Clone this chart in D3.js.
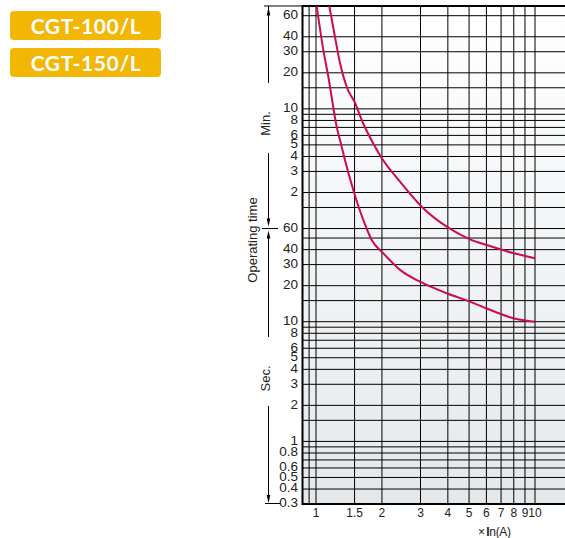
<!DOCTYPE html>
<html>
<head>
<meta charset="utf-8">
<style>
  body { margin: 0; background: #fff; }
  .chart { width: 565px; height: 538px; }
  .tick { font-family: "Liberation Sans", Arial, sans-serif; fill: #222; }
</style>
</head>
<body>
<div class="chart"></div>
<script src="https://d3js.org/d3.v7.min.js"></script>
<script>
  // model badges
  const models = ['CGT-100/L', 'CGT-150/L'];

  // x: multiples of In (log)
  const xGridValues = [0.93, 1, 1.5, 2, 3, 4, 5, 6, 7, 8, 9, 10, 15];
  const xTickValues = [1, 1.5, 2, 3, 4, 5, 6, 7, 8, 9, 10, 15];
  const xTickLabels = ['1', '1.5', '2', '3', '4', '5', '6', '7', '8', '9', '10', '15'];

  // y: operating time in seconds (log)
  const yGridSeconds = [3600, 2400, 1800, 1200, 900, 600, 540, 480, 420, 360, 300, 240, 180, 120, 90,
                        60, 50, 40, 30, 20, 15, 10, 9, 8, 7, 6, 5, 4, 3, 2, 1.5, 1, 0.9, 0.8, 0.7, 0.6, 0.5, 0.4];
  const minTickSeconds = [3600, 2400, 1800, 1200, 600, 480, 360, 300, 240, 180, 120];
  const minTickLabels = ['60', '40', '30', '20', '10', '8', '6', '5', '4', '3', '2'];
  const secTickSeconds = [60, 40, 30, 20, 10, 8, 6, 5, 4, 3, 2, 1, 0.8, 0.6, 0.5, 0.4, 0.3];
  const secTickLabels = ['60', '40', '30', '20', '10', '8', '6', '5', '4', '3', '2', '1', '0.8', '0.6', '0.5', '0.4', '0.3'];
  const timeTop = 4340;

  // upper curve
  const upperX = [1.15, 1.221, 1.287, 1.381, 1.507, 1.639, 1.821, 1.995, 2.419, 3.038, 3.953, 5.05, 6.02, 7.94, 10];
  const upperT = [4340, 2389, 1449, 914, 672, 457, 311, 233, 148, 91.4, 62.2, 48.8, 43.7, 37.5, 33.9];
  // lower curve
  const lowerX = [1.007, 1.08, 1.138, 1.243, 1.31, 1.356, 1.48, 1.644, 1.796, 2.029, 2.419, 2.985, 3.953, 5.05, 6.02, 7.96, 10];
  const lowerT = [4340, 1863, 1114, 426, 290, 224, 126, 70.8, 48.2, 37.3, 27.1, 21.6, 17.3, 14.7, 12.9, 10.7, 10.0];

  const W = 565, H = 538;
  const plotLeft = 302.5, plotRight = 620;

  const svg = d3.select('.chart').append('svg')
    .attr('width', W).attr('height', H);

  const xScale = d3.scaleLog().domain([1, 10]).range([316, 535]);
  const yScale = d3.scaleLog().domain([0.3, 3600]).range([504, 15.7]);
  const plotTop = yScale(timeTop), plotBottom = yScale(0.3);

  // badges
  const badge = svg.selectAll('g.badge').data(models).join('g')
    .attr('class', 'badge')
    .attr('transform', (d, i) => `translate(10,${i === 0 ? 11 : 48})`);
  badge.append('rect')
    .attr('width', 151).attr('height', 29).attr('rx', 4)
    .attr('fill', '#f2b705');
  badge.append('text')
    .attr('x', 76).attr('y', 15)
    .attr('dy', '0.36em')
    .attr('text-anchor', 'middle')
    .style('font-family', 'Lato, "DejaVu Sans", sans-serif')
    .style('font-weight', 'bold')
    .style('font-size', '21px')
    .style('letter-spacing', '0.6px')
    .style('fill', '#fff')
    .text(d => d);

  // background gradient
  const defs = svg.append('defs');
  const grad = defs.append('linearGradient').attr('id', 'bg')
    .attr('x1', 0).attr('y1', 0).attr('x2', 0).attr('y2', 1);
  grad.append('stop').attr('offset', '0%').attr('stop-color', '#ffffff');
  grad.append('stop').attr('offset', '100%').attr('stop-color', '#e5e8eb');
  defs.append('clipPath').attr('id', 'clip')
    .append('rect')
    .attr('x', plotLeft).attr('y', plotTop)
    .attr('width', plotRight - plotLeft).attr('height', plotBottom - plotTop);

  svg.append('rect')
    .attr('x', plotLeft).attr('y', plotTop)
    .attr('width', plotRight - plotLeft).attr('height', plotBottom - plotTop)
    .attr('fill', 'url(#bg)');

  // grid
  svg.append('g').selectAll('line').data(yGridSeconds).join('line')
    .attr('x1', plotLeft).attr('x2', plotRight)
    .attr('y1', d => yScale(d)).attr('y2', d => yScale(d))
    .attr('stroke', '#000').attr('stroke-width', 1);
  svg.append('g').selectAll('line').data(xGridValues).join('line')
    .attr('x1', d => xScale(d)).attr('x2', d => xScale(d))
    .attr('y1', plotTop).attr('y2', plotBottom)
    .attr('stroke', '#000').attr('stroke-width', 1);

  // frame
  svg.append('line').attr('x1', plotLeft).attr('x2', plotRight)
    .attr('y1', plotTop).attr('y2', plotTop).attr('stroke', '#000').attr('stroke-width', 2);
  svg.append('line').attr('x1', plotLeft).attr('x2', plotRight)
    .attr('y1', plotBottom).attr('y2', plotBottom).attr('stroke', '#000').attr('stroke-width', 2);
  svg.append('line').attr('x1', plotLeft).attr('x2', plotLeft)
    .attr('y1', plotTop - 1).attr('y2', plotBottom + 1).attr('stroke', '#000').attr('stroke-width', 2);

  // curves
  const line = d3.line()
    .x(d => xScale(d[0]))
    .y(d => yScale(d[1]))
    .curve(d3.curveMonotoneX);
  const curves = [d3.zip(upperX, upperT), d3.zip(lowerX, lowerT)];
  svg.append('g').attr('clip-path', 'url(#clip)')
    .selectAll('path').data(curves).join('path')
    .attr('d', line)
    .attr('fill', 'none')
    .attr('stroke', '#cc0a55')
    .attr('stroke-width', 2);

  // y tick labels
  svg.append('g').selectAll('text').data(minTickSeconds).join('text')
    .attr('class', 'tick')
    .attr('x', 298).attr('y', d => yScale(d) - 1.5)
    .attr('dy', '0.36em')
    .attr('text-anchor', 'end')
    .style('font-size', '13.5px')
    .text((d, i) => minTickLabels[i]);
  svg.append('g').selectAll('text').data(secTickSeconds).join('text')
    .attr('class', 'tick')
    .attr('x', 298).attr('y', d => yScale(d) - 1.5)
    .attr('dy', '0.36em')
    .attr('text-anchor', 'end')
    .style('font-size', '13.5px')
    .text((d, i) => secTickLabels[i]);

  // x tick labels
  svg.append('g').selectAll('text').data(xTickValues).join('text')
    .attr('class', 'tick')
    .attr('x', d => xScale(d)).attr('y', 517)
    .attr('text-anchor', 'middle')
    .style('font-size', '12px')
    .text((d, i) => xTickLabels[i]);

  const xl = svg.append('text')
    .attr('class', 'tick')
    .attr('x', 478).attr('y', 536)
    .style('font-size', '12px')
    .style('letter-spacing', '-0.3px');
  xl.append('tspan').text('×');
  xl.append('tspan').attr('dx', 1.5).style('font-weight', 'bold').text('I');
  xl.append('tspan').text('n(A)');

  // left annotation: arrows and labels
  const ax = 268.5;
  const ann = svg.append('g').attr('stroke', '#000').attr('stroke-width', 1);
  const segs = [[plotTop, 83], [153, 223], [233, 337], [406, plotBottom - 3]];
  ann.selectAll('line.seg').data(segs).join('line')
    .attr('x1', ax).attr('x2', ax)
    .attr('y1', d => d[0]).attr('y2', d => d[1]);
  ann.append('line').attr('x1', 264).attr('x2', plotLeft)
    .attr('y1', plotTop).attr('y2', plotTop);
  ann.append('line').attr('x1', 262).attr('x2', 278)
    .attr('y1', yScale(60)).attr('y2', yScale(60));
  ann.append('line').attr('x1', 265).attr('x2', 280)
    .attr('y1', plotBottom - 0.5).attr('y2', plotBottom - 0.5);

  // arrowheads: [tip y, direction]
  const heads = [[plotTop + 1.5, -1], [yScale(60) - 2, 1], [yScale(60) + 2, -1], [plotBottom - 1, 1]];
  svg.append('g').selectAll('path').data(heads).join('path')
    .attr('d', d => `M${ax},${d[0]} L${ax - 1.8},${d[0] - d[1] * 8} L${ax + 1.8},${d[0] - d[1] * 8} Z`)
    .attr('fill', '#000');

  const sideLabels = [
    { t: 'Min.', x: 265.5, y: 123.5 },
    { t: 'Operating time', x: 252, y: 240 },
    { t: 'Sec.', x: 265.5, y: 378.5 }
  ];
  svg.append('g').selectAll('text').data(sideLabels).join('text')
    .attr('class', 'tick')
    .attr('transform', d => `translate(${d.x},${d.y}) rotate(-90)`)
    .attr('dy', '0.36em')
    .attr('text-anchor', 'middle')
    .style('font-size', '13px')
    .text(d => d.t);
</script>
</body>
</html>
